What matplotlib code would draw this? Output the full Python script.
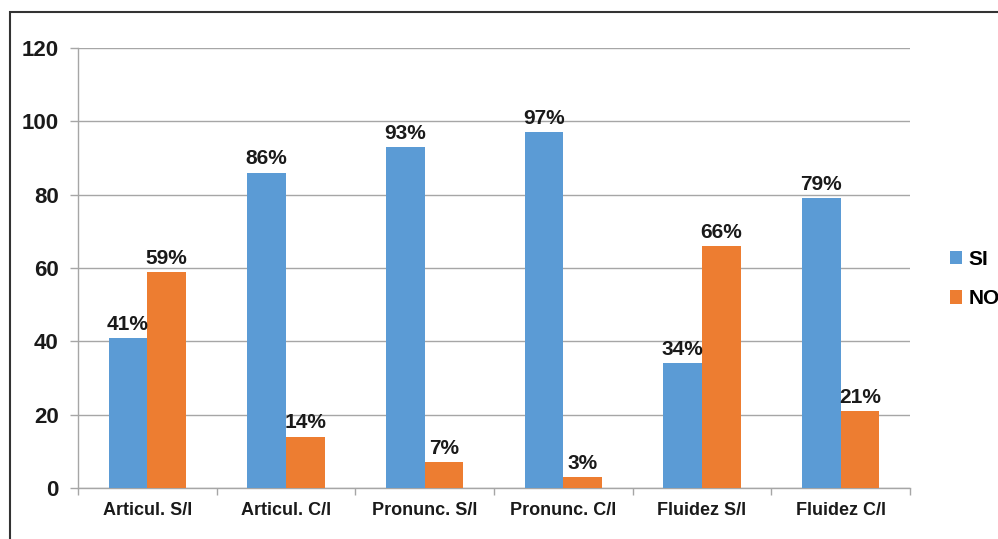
import matplotlib
matplotlib.use("Agg")
import matplotlib.pyplot as plt
from matplotlib.patches import Rectangle, Patch
import numpy as np

categories = ["Articul. S/l", "Articul. C/l", "Pronunc. S/l", "Pronunc. C/l", "Fluidez S/l", "Fluidez C/l"]
si_values = [41, 86, 93, 97, 34, 79]
no_values = [59, 14, 7, 3, 66, 21]
series_names = ["SI", "NO"]
y_ticks = [0, 20, 40, 60, 80, 100, 120]

BLUE = "#5B9BD5"
ORANGE = "#ED7D31"
GRID = "#A6A6A6"
TXT = "#1a1a1a"

plt.rcParams['font.family'] = ['Liberation Sans', 'DejaVu Sans']

fig = plt.figure(figsize=(9.98, 5.39), dpi=100)
ax = fig.add_axes([78/998, 1-488/539, (910-78)/998, (488-48)/539])

x = np.arange(len(categories))
w = 0.28
b1 = ax.bar(x - w/2, si_values, w, color=BLUE, zorder=3)
b2 = ax.bar(x + w/2, no_values, w, color=ORANGE, zorder=3)

for rect, v in zip(b1, si_values):
    ax.annotate(f"{v}%", (rect.get_x() + rect.get_width()/2, v), xytext=(0, 3),
                textcoords="offset points", ha="center", va="bottom",
                fontsize=15, fontweight="bold", color=TXT, zorder=4)
for rect, v in zip(b2, no_values):
    ax.annotate(f"{v}%", (rect.get_x() + rect.get_width()/2, v), xytext=(0, 3),
                textcoords="offset points", ha="center", va="bottom",
                fontsize=15, fontweight="bold", color=TXT, zorder=4)

ax.set_xlim(-0.5, len(categories) - 0.5)
ax.set_ylim(0, 120)
ax.set_yticks(y_ticks)
ax.set_yticklabels([str(t) for t in y_ticks], fontsize=16, fontweight="bold", color=TXT)
ax.yaxis.grid(True, color=GRID, linewidth=1.0, zorder=0)
ax.set_axisbelow(True)

ax.set_xticks(x)
ax.set_xticklabels(categories, fontsize=13, fontweight="bold", color=TXT)
ax.tick_params(axis="x", length=0, pad=10)
ax.set_xticks(np.arange(-0.5, len(categories), 1.0), minor=True)
ax.tick_params(axis="x", which="minor", length=5, color=GRID, width=1)
ax.tick_params(axis="y", length=6, color=GRID, width=1, pad=8)

for s in ["top", "right"]:
    ax.spines[s].set_visible(False)
for s in ["left", "bottom"]:
    ax.spines[s].set_color(GRID)
    ax.spines[s].set_linewidth(1.0)

handles = [Patch(facecolor=BLUE, label=series_names[0]), Patch(facecolor=ORANGE, label=series_names[1])]
fig.legend(handles=handles, loc="center left", bbox_to_anchor=(931/998, 1-279/539),
           frameon=False, handlelength=0.6, handleheight=0.6, handletextpad=0.3,
           labelspacing=1.0, prop={'weight': 'bold', 'size': 15})

frame = Rectangle((10/998, -0.1), 1.2, 1.1 - 12/539, transform=fig.transFigure,
                  fill=False, edgecolor="#333333", linewidth=1.5, clip_on=False)
fig.patches.append(frame)

fig.savefig("out.png", dpi=100, facecolor="white")
